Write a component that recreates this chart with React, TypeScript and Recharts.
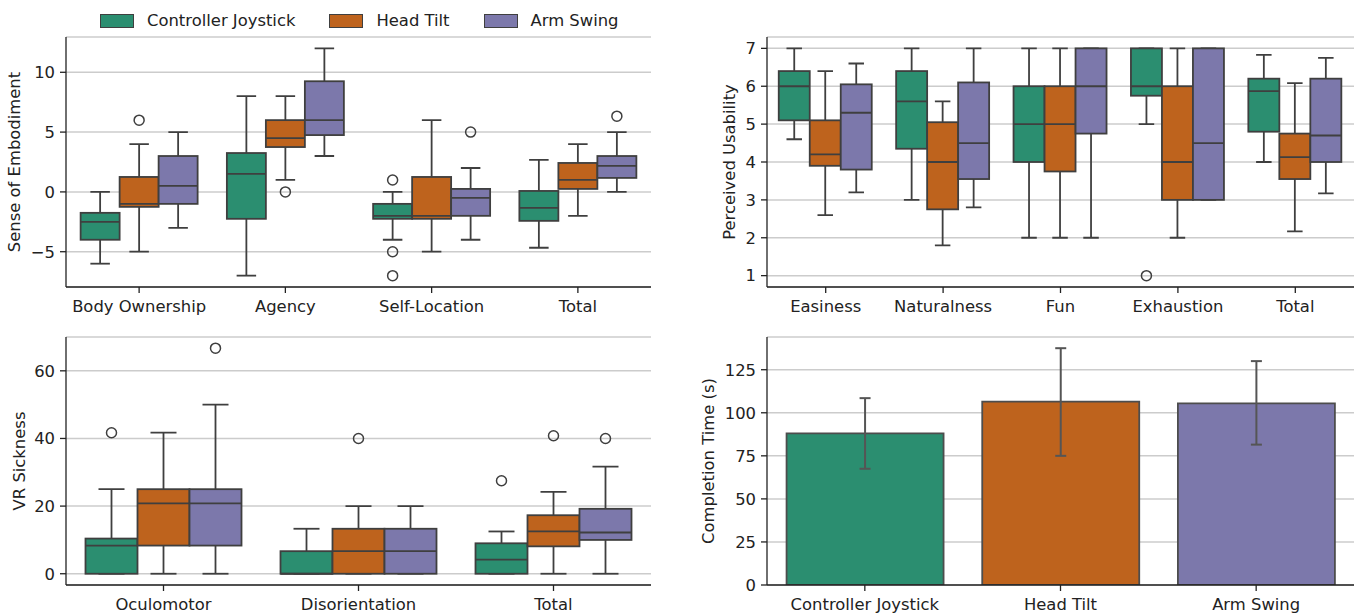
import React from 'react';
import { ComposedChart, Bar, XAxis, YAxis, CartesianGrid, ErrorBar, Cell, Label } from 'recharts';

const FONT = '"DejaVu Sans", sans-serif';
const FONT_SIZE = 16.4;
const TEXT = '#222222';
const AXIS = '#222222';
const EDGE = '#3f3f3f';
const GRID = '#cccccc';

const seriesNames = ['Controller Joystick', 'Head Tilt', 'Arm Swing'];
const seriesColors = ['#2b8e70', '#be631d', '#7c78ab'];
const seriesKeys = ['cj', 'ht', 'as'];

// box stats are [whisker low, q1, median, q3, whisker high]
const embodimentCategories = ['Body Ownership', 'Agency', 'Self-Location', 'Total'];
const embodimentJoystick = [[-6, -4, -2.5, -1.75, 0], [-7, -2.25, 1.5, 3.25, 8], [-4, -2.25, -2, -1, 0], [-4.67, -2.42, -1.33, 0.08, 2.67]];
const embodimentHeadTilt = [[-5, -1.25, -1, 1.25, 4], [1, 3.75, 4.5, 6, 8], [-5, -2.25, -2, 1.25, 6], [-2, 0.25, 1, 2.42, 4]];
const embodimentArmSwing = [[-3, -1, 0.5, 3, 5], [3, 4.75, 6, 9.25, 12], [-4, -2, -0.5, 0.25, 2], [0, 1.17, 2.17, 3, 5]];
const embodimentJoystickOut = [[], [], [1, -5, -7], []];
const embodimentHeadTiltOut = [[6], [0], [], []];
const embodimentArmSwingOut = [[], [], [5], [6.33]];
const embodimentTicks = [-5, 0, 5, 10];

const usabilityCategories = ['Easiness', 'Naturalness', 'Fun', 'Exhaustion', 'Total'];
const usabilityJoystick = [[4.6, 5.1, 6, 6.4, 7], [3, 4.35, 5.6, 6.4, 7], [2, 4, 5, 6, 7], [5, 5.75, 6, 7, 7], [4, 4.8, 5.87, 6.2, 6.83]];
const usabilityHeadTilt = [[2.6, 3.9, 4.2, 5.1, 6.4], [1.8, 2.75, 4, 5.05, 5.6], [2, 3.75, 5, 6, 7], [2, 3, 4, 6, 7], [2.17, 3.55, 4.13, 4.75, 6.08]];
const usabilityArmSwing = [[3.2, 3.8, 5.3, 6.05, 6.6], [2.8, 3.55, 4.5, 6.1, 7], [2, 4.75, 6, 7, 7], [3, 3, 4.5, 7, 7], [3.17, 4, 4.7, 6.2, 6.75]];
const usabilityJoystickOut = [[], [], [], [1], []];
const usabilityHeadTiltOut = [[], [], [], [], []];
const usabilityArmSwingOut = [[], [], [], [], []];
const usabilityTicks = [1, 2, 3, 4, 5, 6, 7];

const sicknessCategories = ['Oculomotor', 'Disorientation', 'Total'];
const sicknessJoystick = [[0, 0, 8.33, 10.4, 25], [0, 0, 0, 6.67, 13.3], [0, 0, 4.2, 9, 12.5]];
const sicknessHeadTilt = [[0, 8.33, 20.8, 25, 41.7], [0, 0, 6.67, 13.3, 20], [0, 8.1, 12.5, 17.3, 24.2]];
const sicknessArmSwing = [[0, 8.33, 20.8, 25, 50], [0, 0, 6.67, 13.3, 20], [0, 10, 12.2, 19.2, 31.7]];
const sicknessJoystickOut = [[41.7], [], [27.5]];
const sicknessHeadTiltOut = [[], [40], [40.8]];
const sicknessArmSwingOut = [[66.7], [], [40]];
const sicknessTicks = [0, 20, 40, 60];

const timeCategories = ['Controller Joystick', 'Head Tilt', 'Arm Swing'];
const timeMeans = [88, 106.5, 105.5];
const timeCiLow = [67.5, 75, 81.5];
const timeCiHigh = [108.5, 137.5, 130];
const timeTicks = [0, 25, 50, 75, 100, 125];

const fmt = (v: number) => (v < 0 ? `\u2212${Math.abs(v)}` : `${v}`);

function buildBoxRows(categories: string[], stats: number[][][], outliers: number[][][]) {
  return categories.map((category, i) => {
    const row: any = { category };
    seriesKeys.forEach((key, s) => {
      const st = stats[s][i];
      const out = outliers[s][i];
      row[key] = { stats: st, out, range: [Math.min(st[0], ...out), Math.max(st[4], ...out)] };
    });
    return row;
  });
}

const embodimentRows = buildBoxRows(
  embodimentCategories,
  [embodimentJoystick, embodimentHeadTilt, embodimentArmSwing],
  [embodimentJoystickOut, embodimentHeadTiltOut, embodimentArmSwingOut],
);
const usabilityRows = buildBoxRows(
  usabilityCategories,
  [usabilityJoystick, usabilityHeadTilt, usabilityArmSwing],
  [usabilityJoystickOut, usabilityHeadTiltOut, usabilityArmSwingOut],
);
const sicknessRows = buildBoxRows(
  sicknessCategories,
  [sicknessJoystick, sicknessHeadTilt, sicknessArmSwing],
  [sicknessJoystickOut, sicknessHeadTiltOut, sicknessArmSwingOut],
);
const timeRows = timeCategories.map((category, i) => ({
  category,
  mean: timeMeans[i],
  err: [timeMeans[i] - timeCiLow[i], timeCiHigh[i] - timeMeans[i]],
}));

const BoxShape = (props: any) => {
  const { x, y, width, height, box, color } = props;
  if (!box) return null;
  const [lo, hi] = box.range;
  // pixel for a value, from the bar the library scaled for [lo, hi]
  const py = (v: number) => y + (height * (hi - v)) / (hi - lo);
  const [wLo, q1, med, q3, wHi] = box.stats;
  const cx = x + width / 2;
  const cap = width / 4;
  const line = { stroke: EDGE, strokeWidth: 1.8 };
  return (
    <g>
      <line x1={cx} x2={cx} y1={py(q3)} y2={py(wHi)} {...line} />
      <line x1={cx} x2={cx} y1={py(q1)} y2={py(wLo)} {...line} />
      <line x1={cx - cap} x2={cx + cap} y1={py(wHi)} y2={py(wHi)} {...line} />
      <line x1={cx - cap} x2={cx + cap} y1={py(wLo)} y2={py(wLo)} {...line} />
      <rect x={x} y={py(q3)} width={width} height={py(q1) - py(q3)} fill={color} {...line} />
      <line x1={x} x2={x + width} y1={py(med)} y2={py(med)} {...line} />
      {box.out.map((v: number, k: number) => (
        <circle key={k} cx={cx} cy={py(v)} r={5} fill="none" stroke={EDGE} strokeWidth={1.5} />
      ))}
    </g>
  );
};

const tickStyle = { fill: TEXT, fontSize: FONT_SIZE, fontFamily: FONT };

function yLabelContent(text: string, lx: number, cy: number) {
  return () => (
    <text
      x={lx}
      y={cy}
      transform={`rotate(-90 ${lx} ${cy})`}
      textAnchor="middle"
      fill={TEXT}
      fontSize={FONT_SIZE}
      fontFamily={FONT}
    >
      {text}
    </text>
  );
}

interface PanelProps {
  left: number;
  top: number;
  width: number;
  height: number;
  axisWidth: number;
  marginTop: number;
  marginRight: number;
  xAxisHeight: number;
  domain: number[];
  ticks: number[];
  yLabel: string;
  labelX: number;
  children?: React.ReactNode;
  rows: any[];
}

function Panel({ left, top, width, height, axisWidth, marginTop, marginRight, xAxisHeight, domain, ticks, yLabel, labelX, rows, children }: PanelProps) {
  const cy = marginTop + (height - marginTop - xAxisHeight) / 2;
  return (
    <div style={{ position: 'absolute', left, top, width, height }}>
      <ComposedChart
        width={width}
        height={height}
        data={rows}
        margin={{ top: marginTop, right: marginRight, bottom: 0, left: 0 }}
        barCategoryGap="10%"
        barGap={0}
      >
        <CartesianGrid vertical={false} stroke={GRID} strokeWidth={1.5} />
        <XAxis
          dataKey="category"
          height={xAxisHeight}
          interval={0}
          tick={tickStyle}
          tickSize={6}
          tickMargin={7}
          axisLine={{ stroke: AXIS, strokeWidth: 1.3 }}
          tickLine={{ stroke: AXIS, strokeWidth: 1.3 }}
        />
        <YAxis
          type="number"
          width={axisWidth}
          domain={domain}
          ticks={ticks}
          allowDataOverflow
          interval={0}
          tickFormatter={fmt}
          tick={tickStyle}
          tickSize={6}
          tickMargin={5}
          axisLine={{ stroke: AXIS, strokeWidth: 1.3 }}
          tickLine={{ stroke: AXIS, strokeWidth: 1.3 }}
        >
          <Label content={yLabelContent(yLabel, labelX, cy)} />
        </YAxis>
        {children}
      </ComposedChart>
    </div>
  );
}

const boxSeries = () =>
  seriesKeys.map((key, s) => (
    <Bar
      key={key}
      dataKey={(row: any) => row[key].range}
      fill={seriesColors[s]}
      isAnimationActive={false}
      shape={(p: any) => <BoxShape {...p} box={p.payload ? p.payload[key] : undefined} color={seriesColors[s]} />}
    />
  ));

export default function App() {
  return (
    <div style={{ position: 'absolute', left: 0, top: 0, width: 1356, height: 615, background: '#ffffff' }}>
      <div
        style={{
          position: 'absolute',
          left: 100,
          top: 11,
          display: 'flex',
          alignItems: 'center',
          fontFamily: FONT,
          fontSize: FONT_SIZE,
          color: TEXT,
        }}
      >
        {seriesNames.map((name, i) => (
          <div key={name} style={{ display: 'flex', alignItems: 'center', marginRight: 34 }}>
            <div
              style={{
                width: 34,
                height: 14,
                background: seriesColors[i],
                border: `1.5px solid ${EDGE}`,
                boxSizing: 'border-box',
                marginRight: 13,
              }}
            />
            <span>{name}</span>
          </div>
        ))}
      </div>

      <Panel
        left={0} top={30} width={660} height={290}
        axisWidth={66} marginTop={7} marginRight={9} xAxisHeight={33}
        domain={[-7.95, 12.95]} ticks={embodimentTicks}
        yLabel="Sense of Embodiment" labelX={20} rows={embodimentRows}
      >
        {boxSeries()}
      </Panel>

      <Panel
        left={680} top={30} width={676} height={290}
        axisWidth={87} marginTop={7} marginRight={2} xAxisHeight={33}
        domain={[0.7, 7.3]} ticks={usabilityTicks}
        yLabel="Perceived Usability" labelX={55} rows={usabilityRows}
      >
        {boxSeries()}
      </Panel>

      <Panel
        left={0} top={330} width={660} height={285}
        axisWidth={66} marginTop={7} marginRight={9} xAxisHeight={30}
        domain={[-3.33, 70]} ticks={sicknessTicks}
        yLabel="VR Sickness" labelX={25} rows={sicknessRows}
      >
        {boxSeries()}
      </Panel>

      <Panel
        left={680} top={330} width={676} height={285}
        axisWidth={87} marginTop={7} marginRight={2} xAxisHeight={30}
        domain={[0, 144]} ticks={timeTicks}
        yLabel="Completion Time (s)" labelX={34} rows={timeRows}
      >
        <Bar dataKey="mean" stroke="#4d4d4d" strokeWidth={1.8} isAnimationActive={false}>
          {timeRows.map((r, i) => (
            <Cell key={r.category} fill={seriesColors[i]} />
          ))}
          <ErrorBar dataKey="err" direction="y" width={5.5} stroke="#555555" strokeWidth={2} isAnimationActive={false} />
        </Bar>
      </Panel>
    </div>
  );
}
